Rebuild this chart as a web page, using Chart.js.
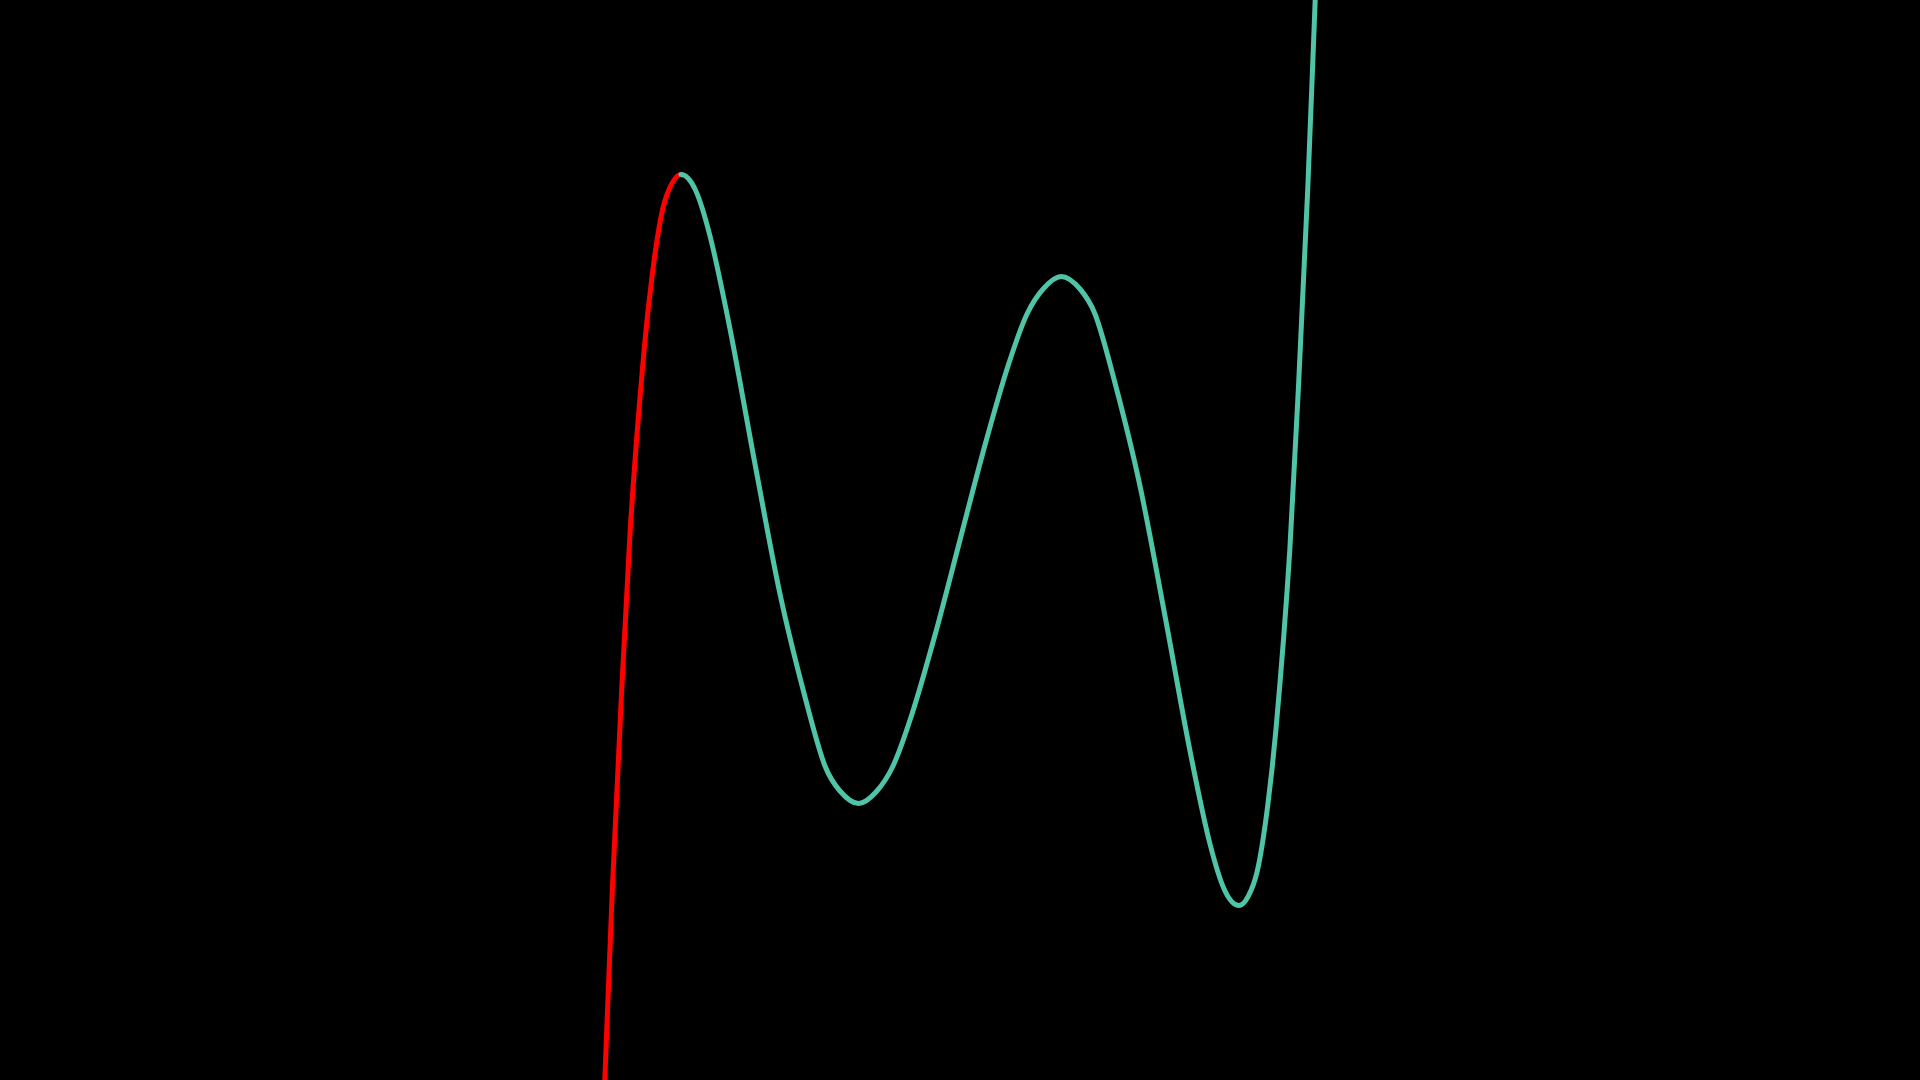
<!DOCTYPE html>
<html>
<head>
<meta charset="utf-8">
<script src="https://cdn.jsdelivr.net/npm/chart.js@4/dist/chart.umd.min.js"></script>
<style>
  html, body { margin: 0; padding: 0; background: #000; }
  #wrap { width: 1920px; height: 1080px; }
</style>
</head>
<body>
<div id="wrap"><canvas id="c" width="1920" height="1080"></canvas></div>
<script>
// Rising branch up to the first peak (red)
const redX = [-3.552, -3.477, -3.388, -3.298, -3.159, -3.078, -2.985, -2.910, -2.790];
const redY = [-5.400, -3.500, -1.600, 0.100, 1.900, 2.650, 3.255, 3.505, 3.655];

// Rest of the curve from the first peak onward (teal)
const tealX = [-2.790, -2.650, -2.500, -2.300, -2.050, -1.800, -1.550, -1.350, -1.200, -1.013, -0.840, -0.670, -0.480, -0.250, 0.000, 0.250, 0.480, 0.670, 0.840, 1.013, 1.200, 1.350, 1.550, 1.800, 2.050, 2.300, 2.500, 2.650, 2.790, 2.910, 2.985, 3.078, 3.159, 3.298, 3.388, 3.477, 3.552];
const tealY = [3.655, 3.510, 3.040, 2.110, 0.760, -0.540, -1.570, -2.260, -2.510, -2.635, -2.520, -2.260, -1.740, -0.950, 0.000, 0.950, 1.740, 2.260, 2.520, 2.635, 2.510, 2.260, 1.570, 0.540, -0.760, -2.110, -3.040, -3.510, -3.655, -3.505, -3.255, -2.650, -1.900, -0.100, 1.600, 3.500, 5.400];

const redColor = '#ff0000';
const tealColor = '#50c4a6';
const xRange = [-9.6, 9.6];
const yRange = [-5.4, 5.4];

const toPts = (xs, ys) => xs.map((x, i) => ({ x: x, y: ys[i] }));
// one continuous path: red branch, then teal branch (shared peak point kept once)
const allPts = toPts(redX, redY).concat(toPts(tealX, tealY).slice(1));
const peakIndex = redX.length - 1;

new Chart(document.getElementById('c'), {
  type: 'line',
  data: {
    datasets: [{
      data: allPts,
      borderColor: tealColor,
      borderWidth: 5,
      pointRadius: 0,
      fill: false,
      cubicInterpolationMode: 'monotone',
      borderCapStyle: 'round',
      borderJoinStyle: 'round',
      segment: {
        borderColor: ctx => (ctx.p0DataIndex < peakIndex ? redColor : tealColor)
      }
    }]
  },
  options: {
    responsive: false,
    animation: false,
    layout: { padding: 0 },
    plugins: { legend: { display: false }, tooltip: { enabled: false } },
    scales: {
      x: { type: 'linear', min: xRange[0], max: xRange[1], display: false },
      y: { type: 'linear', min: yRange[0], max: yRange[1], display: false }
    }
  }
});
</script>
</body>
</html>
